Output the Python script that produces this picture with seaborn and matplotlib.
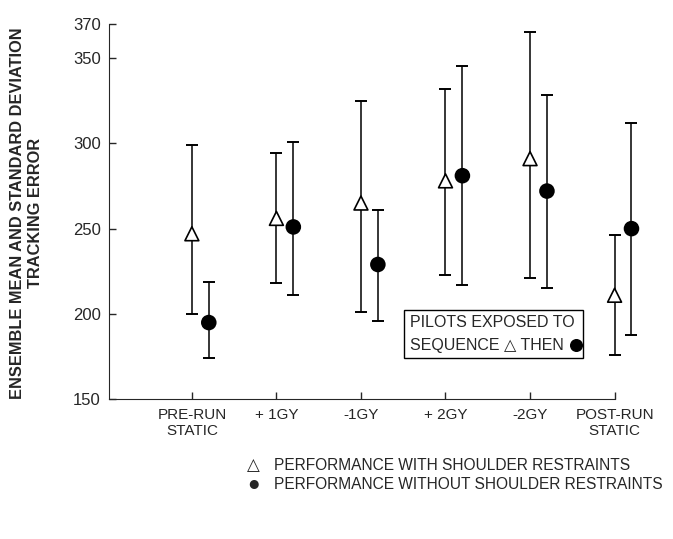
import numpy as np
import pandas as pd
import matplotlib
matplotlib.use("Agg")
import matplotlib.pyplot as plt
import seaborn as sns

conditions = ["PRE-RUN\nSTATIC", "+ 1GY", "-1GY", "+ 2GY", "-2GY", "POST-RUN\nSTATIC"]

# with shoulder restraints (triangles)
with_mean = [247, 256, 265, 278, 291, 211]
with_low = [200, 218, 201, 223, 221, 176]
with_high = [299, 294, 325, 332, 365, 246]

# without shoulder restraints (filled circles)
without_mean = [195, 251, 229, 281, 272, 250]
without_low = [174, 211, 196, 217, 215, 188]
without_high = [219, 301, 261, 345, 328, 312]

y_ticks = [150, 200, 250, 300, 350, 370]

sns.set_style("ticks")
plt.rcParams["font.family"] = ["Liberation Sans", "DejaVu Sans"]

pos = np.arange(len(conditions))
df = pd.concat([
    pd.DataFrame({"pos": pos, "mean": with_mean, "low": with_low, "high": with_high, "group": "with"}),
    pd.DataFrame({"pos": pos + 0.2, "mean": without_mean, "low": without_low, "high": without_high, "group": "without"}),
])

fig = plt.figure(figsize=(6.73, 5.39), dpi=100)
ax = fig.add_axes([0.162, 0.259, 0.814, 0.697])

for _, sub in df.groupby("group"):
    ax.errorbar(sub["pos"], sub["mean"],
                yerr=[sub["mean"] - sub["low"], sub["high"] - sub["mean"]],
                fmt="none", ecolor="black", elinewidth=1.1, capsize=4.5, capthick=1.4, zorder=1)

sns.scatterplot(data=df, x="pos", y="mean", hue="group", style="group",
                markers={"with": "^", "without": "o"},
                palette={"with": "white", "without": "black"},
                edgecolor="black", linewidth=1.2, s=100, legend=False, zorder=3, ax=ax)

ax.set_xlim(-0.98, 5.5)
ax.set_ylim(150, 370)
ax.set_xticks(pos)
ax.set_xticklabels(conditions, fontsize=11)
ax.set_yticks(y_ticks)
ax.set_yticklabels([str(t) for t in y_ticks], fontsize=12)
ax.tick_params(direction="in", length=5, width=1, pad=6)
ax.set_xlabel("")
ax.set_ylabel("")
sns.despine(ax=ax)
ax.spines["bottom"].set_bounds(-0.98, 5)

fig.text(0.04, 0.605, "ENSEMBLE MEAN AND STANDARD DEVIATION\nTRACKING ERROR",
         rotation=90, ha="center", va="center", fontsize=11.8, fontweight="bold",
         linespacing=1.25, multialignment="center")

# inset key box; the filled circle is drawn as a marker so it matches the plot symbol
ax.text(0.549, 0.174, "PILOTS EXPOSED TO\nSEQUENCE \u25b3 THEN   ", transform=ax.transAxes,
        fontsize=11.5, ha="left", va="center", linespacing=1.6,
        bbox=dict(boxstyle="square,pad=0.35", facecolor="white", edgecolor="black", linewidth=1))
ax.scatter([0.853], [0.146], transform=ax.transAxes, marker="o", s=70,
           color="black", clip_on=False, zorder=6)

fig.text(0.376, 0.137, "\u25b3", fontsize=12, ha="center", va="center")
fig.text(0.407, 0.137, "PERFORMANCE WITH SHOULDER RESTRAINTS", fontsize=11.2, ha="left", va="center")
fig.text(0.376, 0.102, "\u25cf", fontsize=15, ha="center", va="center")
fig.text(0.407, 0.102, "PERFORMANCE WITHOUT SHOULDER RESTRAINTS", fontsize=11.2, ha="left", va="center")

fig.savefig("out.png", dpi=100)
